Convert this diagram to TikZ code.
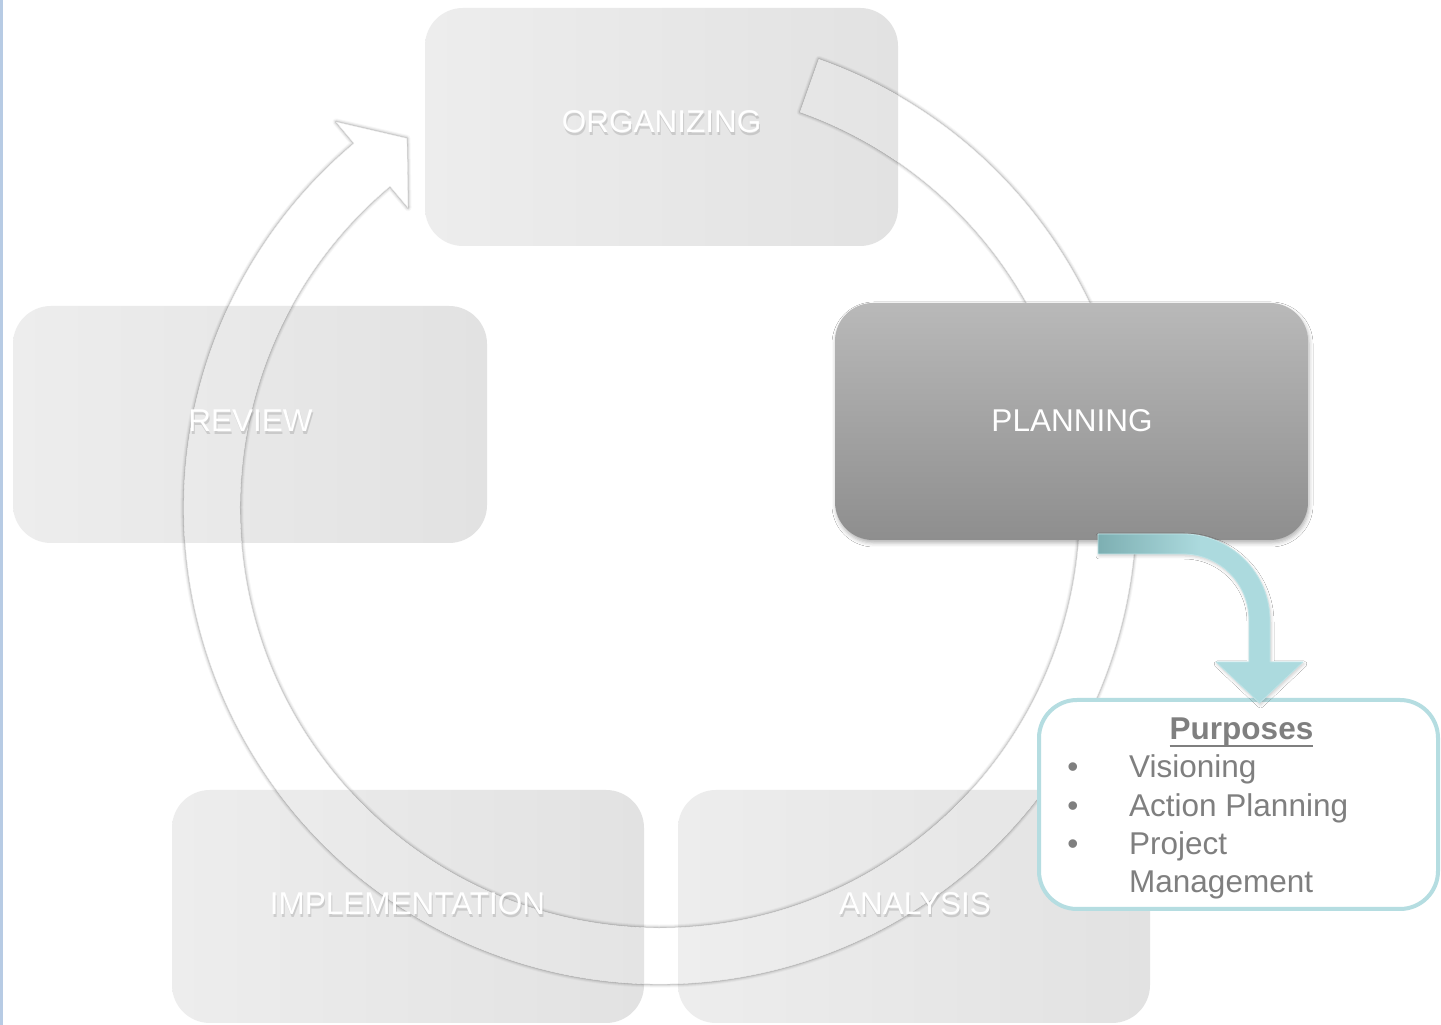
\documentclass[tikz,border=0pt]{standalone}
\usepackage{fontspec}
\setmainfont{Liberation Sans}
\usetikzlibrary{calc,shadows.blur}
\definecolor{fadeL}{HTML}{EDEDED}
\definecolor{fadeR}{HTML}{E2E2E2}
\definecolor{planT}{HTML}{B9B9B9}
\definecolor{planB}{HTML}{8E8E8E}
\definecolor{tealA}{HTML}{7DAFB2}
\definecolor{tealB}{HTML}{ACDADE}
\definecolor{tealEdge}{HTML}{BFE4E7}
\definecolor{callout}{HTML}{B5DDE1}
\definecolor{txtgray}{HTML}{7F7F7F}
\definecolor{leftline}{HTML}{B7CBE4}
\tikzset{
  fadebox/.style={rectangle, rounded corners=38pt, inner sep=0pt, left color=fadeL, right color=fadeR},
  planbox/.style={rectangle, rounded corners=38pt, inner sep=0pt, top color=planT, bottom color=planB,
    blur shadow={shadow xshift=1pt, shadow yshift=-3pt, shadow blur radius=4pt, shadow opacity=30}},
  boxtxt/.style={font=\fontsize{31.5}{36}\selectfont, text=white, inner sep=0pt, anchor=base},
  boxtxtsh/.style={boxtxt, text=black!50, opacity=0.28},
  calltxt/.style={font=\fontsize{31.5}{38}\selectfont, text=txtgray, inner sep=0pt},
}
\newcommand{\shtext}[4]{%
  \node[boxtxtsh] (#1s) at ($(#2,#3)+(1,-2.5)$) {#4};
  \node[boxtxt] (#1) at (#2,#3) {#4};}
\begin{document}
\begin{tikzpicture}[x=1pt,y=1pt]
\useasboundingbox (0,0) rectangle (1441,1025);
\fill[white] (0,0) rectangle (1441,1025);

% faded boxes
\node[fadebox, minimum width=473pt, minimum height=238pt] (org) at (661.5,898) {};
\node[fadebox, minimum width=474pt, minimum height=237pt] (rev) at (250,600.5) {};
\node[fadebox, minimum width=472pt, minimum height=233pt] (imp) at (408,118.5) {};
\node[fadebox, minimum width=472pt, minimum height=233pt] (ana) at (914,118.5) {};

% big circular arrow
\coordinate (C) at (660,517);
\def\ringpath{($(C)+(70.5:476pt)$) arc[start angle=70.5,end angle=-230,radius=476pt]
  -- ($(C)+(-230:504pt)$) -- ($(C)+(-235.6:448pt)$) -- ($(C)+(-230:392pt)$)
  -- ($(C)+(-230:420pt)$) arc[start angle=-230,end angle=70.5,radius=420pt] -- cycle}
\begin{scope}[even odd rule]
  \clip (-20,-20) rectangle (1461,1045) \ringpath;
  \foreach \w/\o in {7/0.03,5/0.05,3/0.07,1.5/0.10}
    \draw[shift={(1.5,-3)}, line width=\w pt, black, opacity=\o, line join=round] \ringpath;
\end{scope}
\fill[white, opacity=0.08] \ringpath;
\draw[black!6, line width=0.4pt, line join=round] \ringpath;

% planning box
\node[planbox, minimum width=473pt, minimum height=237pt] (plan) at (1071.5,603.5) {};

% box texts
\shtext{orgt}{661.5}{892}{ORGANIZING}
\shtext{revt}{250.5}{593}{REVIEW}
\shtext{impt}{407.5}{110}{IMPLEMENTATION}
\shtext{anat}{915}{110}{ANALYSIS}
\node[boxtxt] (plant) at (1072,593.5) {PLANNING};

% callout box
\node[rectangle, draw=callout, line width=4pt, fill=white, rounded corners=38pt, inner sep=0pt,
  minimum width=399pt, minimum height=209pt] (cb) at (1238.5,220.5) {};

% bent arrow from planning to callout
\coordinate (as) at (1098,491);
\coordinate (tip) at (1259.5,322);
\path[left color=tealA, right color=tealB, middle color=tealB, draw=tealEdge, line width=0.8pt, line join=round,
  blur shadow={shadow xshift=1pt, shadow yshift=-2pt, shadow blur radius=3pt, shadow opacity=20}]
  (as) -- (1183,491) arc[start angle=90,end angle=0,radius=87pt] -- (1270,363) -- (1303,363)
  -- (tip) -- (1216,363) -- (1249,363) -- (1249,405) arc[start angle=0,end angle=90,radius=66pt]
  -- (1098,471) -- cycle;

% callout text
\node[calltxt, anchor=base, font=\fontsize{31.5}{38}\selectfont\bfseries] (pur) at (1241.5,285) {Purposes};
\draw[txtgray, line width=2.4pt] ($(pur.base west)+(0,-6)$) -- ($(pur.base east)+(0,-6)$);
\node[calltxt, anchor=base] (b1) at (1073,247) {•};
\node[calltxt, anchor=base] (b2) at (1073,208.5) {•};
\node[calltxt, anchor=base] (b3) at (1073,170) {•};
\node[calltxt, anchor=base west] (t1) at (1129,247) {Visioning};
\node[calltxt, anchor=base west] (t2) at (1129,208.5) {Action Planning};
\node[calltxt, anchor=base west] (t3) at (1129,170) {Project};
\node[calltxt, anchor=base west] (t4) at (1129,132) {Management};

% left edge line
\coordinate (ll0) at (1.5,0);
\coordinate (ll1) at (1.5,1025);
\draw[leftline, line width=3pt] (ll0) -- (ll1);
\end{tikzpicture}
\end{document}
